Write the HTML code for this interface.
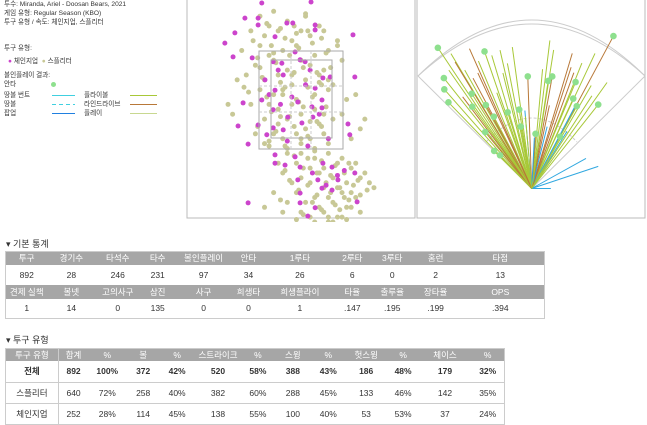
<!DOCTYPE html>
<html><head><meta charset="utf-8">
<style>
body{margin:0;width:647px;height:424px;background:#fff;font-family:"Liberation Sans","Noto Sans CJK KR",sans-serif;color:#333;position:relative;overflow:hidden}
.abs{position:absolute}
.info{font-size:6.6px;left:4px;line-height:9px;white-space:nowrap}
table{border-collapse:collapse;position:absolute;font-size:8.5px;text-align:center}
td{padding:0;border:none}
tr.h td{background:#a6a6a6;color:#fff}
.sec{font-size:9px;left:6px}
</style></head><body>
<div class="abs info" style="top:0">투수: Miranda, Ariel - Doosan Bears, 2021<br>게임 유형: Regular Season (KBO)<br>투구 유형 / 속도: 체인지업, 스플리터</div>
<div class="abs info" style="top:44px">투구 유형:</div>
<div class="abs info" style="top:57px;left:8px"><span style="color:#cc44cc">●</span> 체인지업 &nbsp;<span style="color:#c8c896">●</span> 스플리터</div>
<div class="abs info" style="top:71px">볼인플레이 결과:</div>
<div class="abs info" style="top:80px">안타</div>
<div class="abs" style="left:51px;top:82px;width:5px;height:5px;border-radius:50%;background:#8ee08e"></div>
<div class="abs info" style="top:91px">땅볼 번트</div>
<div class="abs info" style="top:100px">땅볼</div>
<div class="abs info" style="top:109px">팝업</div>
<div class="abs info" style="top:91px;left:84px">플라이볼</div>
<div class="abs info" style="top:100px;left:84px">라인드라이브</div>
<div class="abs info" style="top:109px;left:84px">플레이</div>
<svg class="abs" style="left:0;top:0" width="190" height="130">
<line x1="52" y1="95.5" x2="75" y2="95.5" stroke="#40d0e0"/>
<line x1="52" y1="104.5" x2="75" y2="104.5" stroke="#40d0e0" stroke-dasharray="4,3"/>
<line x1="52" y1="113.5" x2="75" y2="113.5" stroke="#2080e0"/>
<line x1="130" y1="95.5" x2="157" y2="95.5" stroke="#a8c838"/>
<line x1="130" y1="104.5" x2="157" y2="104.5" stroke="#b87838"/>
<line x1="130" y1="113.5" x2="157" y2="113.5" stroke="#c8d890"/>
</svg>

<svg class="abs" style="left:0;top:0" width="647" height="222" id="charts">
<rect x="187" y="-2" width="228" height="220" fill="none" stroke="#bbb"/>
<rect x="417" y="-2" width="228" height="220" fill="none" stroke="#bbb"/>
<g id="pts"></g><g id="zone"></g><g id="spray"></g>
</svg>
<script>
// pitch locations (ft): horizontal x, height z
const splX=[-0.9,-0.6,-0.3,0.1,0.4,-1.1,-0.8,-0.5,-0.2,0.2,0.5,0.8,-1.3,-0.9,-0.7,-0.4,-0.1,0.3,0.6,-1.0,-0.6,-0.3,0.0,0.2,0.5,0.9,-1.2,-0.8,-0.5,-0.2,0.1,0.4,0.7,-0.9,-0.6,-0.4,-0.1,0.3,0.6,1.0,-1.1,-0.7,-0.5,-0.2,0.0,0.3,0.5,-0.8,-0.5,-0.3,0.1,0.4,0.7,-1.0,-0.6,-0.4,-0.1,0.2,0.5,-0.8,-0.3,0.0,0.3,0.6,-1.4,1.2,-1.5,1.3,-0.7,0.8,-0.2,-0.4,0.6,0.9,1.1,0.0,-1.6,1.4,
-0.3,0.0,0.3,0.6,0.9,1.2,-0.5,-0.1,0.2,0.5,0.8,1.1,1.4,-0.4,0.0,0.4,0.7,1.0,1.3,-0.2,0.2,0.5,0.8,1.1,1.5,-0.6,-0.1,0.3,0.6,0.9,1.2,-0.3,0.1,0.4,0.7,1.0,1.3,-0.4,0.0,0.5,0.8,1.1,0.2,0.6,0.9,-0.1,0.3,0.7,1.6,-0.8,1.0,
-0.75,-0.45,-0.15,0.15,0.45,-1.05,-0.65,-0.35,-0.05,0.25,0.55,-0.95,-0.55,-0.25,0.05,0.35,0.65,-0.85,-0.45,-0.15,0.15,0.45,-1.15,-0.75,-0.35,-0.05,0.25,0.55,-0.65,-0.25,0.05,0.35,-0.95,-0.55,-0.15,0.15,0.45,-0.7,-0.35,0.0,0.3,-1.25,-0.6,-0.1,0.2,-0.9,-0.45,0.1,0.4,-0.7,
-0.15,0.15,0.45,0.75,1.05,-0.35,0.05,0.35,0.65,0.95,1.25,-0.25,0.15,0.55,0.85,1.15,-0.05,0.35,0.65,0.95,1.3,-0.45,0.25,0.75,1.05,0.45,0.85,0.05,1.45,0.6];
const splZ=[4.2,4.3,4.1,4.2,4.0,3.9,3.8,3.9,3.7,3.8,3.9,3.6,3.5,3.6,3.4,3.5,3.6,3.4,3.5,3.2,3.3,3.1,3.3,3.2,3.1,3.3,3.0,2.9,3.0,2.8,2.9,3.0,2.8,2.7,2.6,2.7,2.5,2.6,2.7,2.5,2.4,2.4,2.3,2.4,2.2,2.3,2.2,2.1,2.0,2.1,1.9,2.0,2.1,1.8,1.8,1.7,1.8,1.7,1.8,1.6,1.5,1.6,1.5,1.6,2.9,2.6,2.2,1.9,4.0,3.7,3.0,2.6,2.9,2.2,1.7,3.9,2.4,2.1,
1.4,1.4,1.3,1.4,1.3,1.2,1.2,1.2,1.1,1.1,1.2,1.1,1.0,1.0,0.9,1.0,0.9,0.8,0.9,0.8,0.8,0.7,0.7,0.6,0.8,0.6,0.6,0.5,0.5,0.6,0.5,0.4,0.4,0.3,0.4,0.3,0.2,0.2,0.2,0.2,0.1,0.3,0.1,0.0,0.1,0.05,0.0,0.0,0.7,0.3,0.05,
4.05,3.95,4.0,3.9,3.75,3.7,3.6,3.75,3.55,3.65,3.45,3.35,3.25,3.4,3.15,3.05,3.15,2.95,2.85,3.05,2.75,2.8,2.65,2.55,2.75,2.45,2.55,2.35,2.25,2.15,2.35,2.05,1.95,1.85,1.95,1.75,1.95,1.65,1.55,1.7,1.45,2.75,3.45,3.85,2.05,3.15,2.15,4.25,2.85,1.55,
1.35,1.3,1.25,1.15,1.2,1.05,1.1,1.0,0.95,1.0,0.85,0.85,0.75,0.8,0.7,0.75,0.65,0.55,0.6,0.5,0.55,0.45,0.4,0.35,0.45,0.25,0.25,0.15,0.65,0.1];
const chgX=[-0.86,0.22,-1.23,-0.94,-0.94,-1.45,-1.67,-1.49,-1.07,0.31,0.31,1.14,-0.31,-0.18,-0.57,-0.13,-0.61,-0.42,-0.02,0.09,-0.39,-0.79,0.48,0.64,1.18,-0.57,0.31,-0.86,-1.27,0.46,-0.07,-0.61,0.24,0.46,-0.29,0.02,-0.94,-1.38,-0.61,-0.39,0.26,1.03,1.07,-0.75,-1.16,-0.57,-0.13,-0.57,-0.35,-0.02,0.48,0.68,1.18,-0.07,0.37,0.81,0.46,0.68,-0.02,1.23,-1.16,0.31,-0.02,0.15,-0.5,0.1,-0.2,0.4,-0.45,0.2,-0.7,0.6,0.15,-0.3,0.8,0.95,0.55,0.25];
const chgZ=[4.47,4.49,4.16,4.16,4.02,3.86,3.65,3.37,3.35,4.02,3.92,3.82,4.06,4.06,3.78,3.47,3.27,3.24,3.31,3.27,3.0,2.9,2.94,2.96,2.96,2.69,2.73,2.49,2.43,2.49,2.45,2.29,2.35,2.33,2.14,2.02,1.98,1.96,1.92,1.88,2.14,2.0,1.78,1.78,1.59,1.37,1.33,1.2,1.16,1.12,1.2,1.12,1.0,0.86,0.86,0.86,0.69,0.65,0.59,0.41,0.39,0.29,0.39,0.12,3.1,2.8,2.55,2.2,2.4,3.1,2.6,1.7,1.55,1.65,0.95,1.05,0.75,1.0];
// batted balls: angle (deg, 0 = center), distance (ft), type, hit
const bbAng=[-33.7,-30.9,-38.5,-41.4,-44,-19,-22.7,-12.9,-7.8,-2,7,5.2,8.7,10.4,16.7,21.8,25.1,28.2,22.4,24.8,28.7,35.4,38.4,-29.5,-31.2,-28,-16.7,-32.3,-36,-28.8,-27.8,-17.5,-9,-39.5,-45,-43.6,-10,4,28.7,-5,61,71.6,90,31.7,27.8,-25,-14,-5,12,18,33,-37,-20,3,14,-35,-24,-11,9,20,30];
const bbDist=[398,370,332,311,282,341,325,334,336,264,351,282,256,268,332,318,351,407,271,233,221,306,252,320,348,294,327,264,238,224,191,188,188,172,125,108,148,129,139,184,146,165,45,158,216,300,280,170,200,300,260,270,240,120,150,340,360,300,330,290,280];
const bbType=['f','f','f','f','f','f','f','f','f','l','f','f','f','l','l','f','f','l','f','f','f','f','f','f','l','l','f','f','f','l','f','f','f','l','f','f','f','l','f','g','g','g','g','g','g','l','f','f','l','l','f','l','f','g','g','f','l','f','f','l','f'];
const bbHit=[1,0,1,1,1,1,0,0,0,1,0,0,1,1,0,0,0,1,1,1,1,0,1,0,0,0,0,1,1,1,1,1,1,1,1,1,1,1,1,0,0,0,0,0,0,0,0,0,0,0,0,0,0,0,0,0,0,0,0,0,0];
</script>
<script>
const NS='http://www.w3.org/2000/svg';
function mk(t,a,p){const e=document.createElementNS(NS,t);for(const k in a)e.setAttribute(k,a[k]);p.appendChild(e);return e;}
const px=v=>301+v*45.6, pz=v=>222-v*49;
const zone=document.getElementById('zone');
let r=mk('rect',{x:259,y:51,width:84,height:98,fill:'none',stroke:'#aaa','stroke-width':1},zone);


r=mk('rect',{x:271,y:60,width:61,height:78,fill:'none',stroke:'#aaa','stroke-width':1},zone);


[[291,51,291,149],[311,51,311,149],[259,86,343,86],[259,112,343,112]].forEach(l=>{const e=mk('line',{x1:l[0],y1:l[1],x2:l[2],y2:l[3],stroke:'#ccc','stroke-dasharray':'3,2'},zone);

});
const pts=document.getElementById('pts');
splX.forEach((x,i)=>{const c=mk('circle',{cx:px(x),cy:pz(splZ[i]),r:2.5,fill:'#c8c896'},pts);

});
chgX.forEach((x,i)=>{const c=mk('circle',{cx:px(x),cy:pz(chgZ[i]),r:2.5,fill:'#cc44cc'},pts);

});
// spray
const sp=document.getElementById('spray');
const hx=531.7,hy=188.5,sc=0.425;
[['M418,76 Q531.7,-36 645,76'],['M418,76 Q531.7,-28 645,76'],['M'+hx+','+hy+' L418,76'],['M'+hx+','+hy+' L645,76'],['M486,142 Q531.7,94 577,142']].forEach((d,i)=>{const e=mk('path',{d:d[0],fill:'none',stroke:'#ccc','stroke-dasharray':i==4?'3,2':'none'},sp);

});
const col={f:'#a8c838',l:'#b87838',g:'#30a8e0',p:'#c8d890'};
const dots=[];
bbAng.forEach((a,i)=>{const rad=a*Math.PI/180,d=bbDist[i]*sc;const x=hx+d*Math.sin(rad),y=hy-d*Math.cos(rad);
const l=mk('line',{x1:hx,y1:hy,x2:x,y2:y,stroke:col[bbType[i]],'stroke-width':1},sp);


if(bbHit[i])dots.push([x,y]);});
dots.forEach(p=>{const c=mk('circle',{cx:p[0],cy:p[1],r:3.3,fill:'#8ee08e'},sp);

});
</script>

<div class="abs sec" style="top:237px">▾ 기본 통계</div>
<table style="left:5px;top:251px;width:540px;border:1px solid #ccc">
<colgroup><col style="width:42px"><col style="width:48px"><col style="width:45px"><col style="width:35px"><col style="width:57px"><col style="width:33px"><col style="width:70px"><col style="width:35px"><col style="width:45px"><col style="width:42px"><col style="width:88px"></colgroup>
<tr class="h" style="height:13px"><td>투구</td><td>경기수</td><td>타석수</td><td>타수</td><td>볼인플레이</td><td>안타</td><td>1루타</td><td>2루타</td><td>3루타</td><td>홈런</td><td>타점</td></tr>
<tr style="height:20px"><td>892</td><td>28</td><td>246</td><td>231</td><td>97</td><td>34</td><td>26</td><td>6</td><td>0</td><td>2</td><td>13</td></tr>
<tr class="h" style="height:14px"><td>견제 실책</td><td>볼넷</td><td>고의사구</td><td>삼진</td><td>사구</td><td>희생타</td><td>희생플라이</td><td>타율</td><td>출루율</td><td>장타율</td><td>OPS</td></tr>
<tr style="height:20px"><td>1</td><td>14</td><td>0</td><td>135</td><td>0</td><td>0</td><td>1</td><td>.147</td><td>.195</td><td>.199</td><td>.394</td></tr>
</table>

<div class="abs sec" style="top:333px">▾ 투구 유형</div>
<table style="left:5px;top:348px;width:500px;border:1px solid #ccc">
<colgroup><col style="width:53px"><col style="width:30px"><col style="width:38px"><col style="width:34px"><col style="width:34px"><col style="width:48px"><col style="width:32px"><col style="width:38px"><col style="width:33px"><col style="width:43px"><col style="width:31px"><col style="width:53px"><col style="width:33px"></colgroup>
<tr class="h" style="height:11px"><td style="border-right:1px solid #ccc">투구 유형</td><td>합계</td><td>%</td><td>볼</td><td>%</td><td>스트라이크</td><td>%</td><td>스윙</td><td>%</td><td>헛스윙</td><td>%</td><td>체이스</td><td>%</td></tr>
<tr style="height:21px;font-weight:bold;border-bottom:1px solid #ccc"><td style="border-right:1px solid #ccc">전체</td><td>892</td><td>100%</td><td>372</td><td>42%</td><td>520</td><td>58%</td><td>388</td><td>43%</td><td>186</td><td>48%</td><td>179</td><td>32%</td></tr>
<tr style="height:21px;border-bottom:1px solid #ccc"><td style="border-right:1px solid #ccc">스플리터</td><td>640</td><td>72%</td><td>258</td><td>40%</td><td>382</td><td>60%</td><td>288</td><td>45%</td><td>133</td><td>46%</td><td>142</td><td>35%</td></tr>
<tr style="height:21px"><td style="border-right:1px solid #ccc">체인지업</td><td>252</td><td>28%</td><td>114</td><td>45%</td><td>138</td><td>55%</td><td>100</td><td>40%</td><td>53</td><td>53%</td><td>37</td><td>24%</td></tr>
</table>
</body></html>
